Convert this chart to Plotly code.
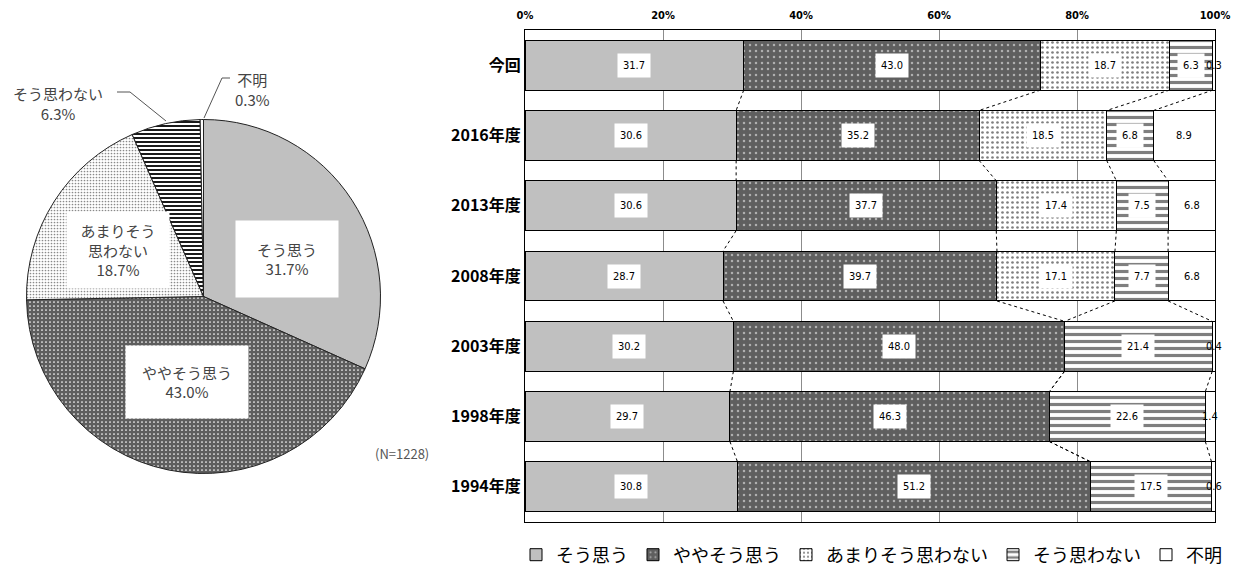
import plotly.graph_objects as go

# ---------------- data ----------------
series_names = ["そう思う", "ややそう思う", "あまりそう思わない", "そう思わない", "不明"]
categories = ["今回", "2016年度", "2013年度", "2008年度", "2003年度", "1998年度", "1994年度"]
so_omou = [31.7, 30.6, 30.6, 28.7, 30.2, 29.7, 30.8]
yaya = [43.0, 35.2, 37.7, 39.7, 48.0, 46.3, 51.2]
amari = [18.7, 18.5, 17.4, 17.1, None, None, None]
omowanai = [6.3, 6.8, 7.5, 7.7, 21.4, 22.6, 17.5]
fumei = [0.3, 8.9, 6.8, 6.8, 0.4, 1.4, 0.6]

pie_values = [31.7, 43.0, 18.7, 6.3, 0.3]
pie_n = 1228
x_ticks = [0, 20, 40, 60, 80, 100]

# page has an 8px body margin; figure size chosen so it fills the window
OFF = 8
W, H = 1243 - OFF, 567 - OFF


def px(x):
    return (x - OFF) / W


def py(y):
    return 1 - (y - OFF) / H


CJK = "Noto Sans CJK JP"
NARROW = "Liberation Sans Narrow, DejaVu Sans Condensed, Liberation Sans, sans-serif"

patterns = [
    dict(color="#c0c0c0", pattern=None),
    dict(color="#5f5f5f", pattern=dict(shape=".", fgcolor="#ffffff", bgcolor="#5f5f5f", size=6, solidity=0.14)),
    dict(color="#ffffff", pattern=dict(shape=".", fgcolor="#000000", bgcolor="#ffffff", size=5, solidity=0.22)),
    dict(color="#ffffff", pattern=dict(shape="-", fgcolor="#000000", bgcolor="#ffffff", size=7, solidity=0.45)),
    dict(color="#ffffff", pattern=None),
]

series_vals = [so_omou, yaya, amari, omowanai, fumei]
ypos = list(range(len(categories)))
BAR_W = 0.71

fig = go.Figure()

# ---------------- pie ----------------
pie_patterns = [
    dict(shape=""),
    dict(shape=".", fgcolor="#ffffff", bgcolor="#5e5e5e", size=4, solidity=0.15),
    dict(shape=".", fgcolor="#8a8a8a", bgcolor="#ffffff", size=3, solidity=0.25),
    dict(shape="-", fgcolor="#000000", bgcolor="#ffffff", size=4, solidity=0.45),
    dict(shape=""),
]
fig.add_trace(go.Pie(
    labels=series_names, values=pie_values, sort=False, direction="clockwise", rotation=0,
    textinfo="none", hoverinfo="label+percent", showlegend=False,
    marker=dict(colors=["#c0c0c0", "#5e5e5e", "#f0f0f0", "#ffffff", "#ffffff"],
                line=dict(color="#222222", width=1), pattern=dict(
                    shape=[p["shape"] for p in pie_patterns],
                    fgcolor=[p.get("fgcolor", "#000") for p in pie_patterns],
                    bgcolor=[p.get("bgcolor", "#fff") for p in pie_patterns],
                    size=[p.get("size", 8) for p in pie_patterns],
                    solidity=[p.get("solidity", 0.3) for p in pie_patterns])),
    domain=dict(x=[px(26.5), px(380.5)], y=[py(473.5), py(119.5)]),
))

# ---------------- bars ----------------
for i, (name, vals) in enumerate(zip(series_names, series_vals)):
    p = patterns[i]
    marker = dict(color=p["color"], line=dict(color="#000000", width=1))
    if p["pattern"]:
        marker["pattern"] = p["pattern"]
    fig.add_trace(go.Bar(
        name=name, orientation="h", y=ypos, x=[v if v is not None else 0 for v in vals],
        marker=marker, width=BAR_W, xaxis="x", yaxis="y", hoverinfo="x+name",
    ))

# cumulative positions
cums = []
for r in range(len(categories)):
    c = 0
    row = []
    for vals in series_vals:
        v = vals[r] or 0
        row.append((c, c + v))
        c += v
    cums.append(row)

annotations = []
for r in range(len(categories)):
    for s, vals in enumerate(series_vals):
        v = vals[r]
        if v is None:
            continue
        a, b = cums[r][s]
        annotations.append(dict(
            x=(a + b) / 2, y=r, xref="x", yref="y", text=f"{v:.1f}", showarrow=False,
            xanchor="center", yanchor="middle",
            font=dict(family=NARROW, size=11, color="#000"),
            bgcolor="#ffffff" if s < 4 else "rgba(0,0,0,0)", borderpad=5,
        ))

shapes = []
# connector dotted lines between consecutive rows
for r in range(len(categories) - 1):
    for s in range(4):
        x0 = cums[r][s][1]
        x1 = cums[r + 1][s][1]
        shapes.append(dict(type="line", xref="x", yref="y", x0=x0, x1=x1,
                           y0=r + BAR_W / 2, y1=r + 1 - BAR_W / 2,
                           line=dict(color="#000000", width=1, dash="dot")))

# pie leader lines
shapes.append(dict(type="path", xref="paper", yref="paper",
                   path=f"M{px(117)},{py(92)} L{px(130)},{py(92)} L{px(166)},{py(121)}",
                   line=dict(color="#555555", width=1)))
shapes.append(dict(type="path", xref="paper", yref="paper",
                   path=f"M{px(230)},{py(78)} L{px(222)},{py(78)} L{px(204)},{py(118)}",
                   line=dict(color="#555555", width=1)))

# pie labels
pie_font = dict(family=CJK, size=15, color="#444444")
common = dict(xref="paper", yref="paper", showarrow=False, xanchor="center", yanchor="middle")
annotations += [
    dict(x=px(287), y=py(259), text=f"{series_names[0]}<br>{pie_values[0]:.1f}%", font=pie_font,
         bgcolor="#ffffff", width=100, height=74, **common),
    dict(x=px(187), y=py(382), text=f"{series_names[1]}<br>{pie_values[1]:.1f}%", font=pie_font,
         bgcolor="#ffffff", width=120, height=70, **common),
    dict(x=px(118), y=py(250), text=f"あまりそう<br>思わない<br>{pie_values[2]:.1f}%", font=pie_font,
         bgcolor="#ffffff", width=100, height=74, **common),
    dict(x=px(58), y=py(103), text=f"{series_names[3]}<br>{pie_values[3]:.1f}%", font=pie_font, **common),
    dict(x=px(252), y=py(90), text=f"{series_names[4]}<br>{pie_values[4]:.1f}%", font=pie_font, **common),
    dict(x=px(402), y=py(453), text=f"(N={pie_n})", font=dict(family=CJK, size=13, color="#555555"), **common),
]

fig.update_layout(
    barmode="stack",
    bargap=0.29,
    width=W, height=H,
    margin=dict(l=0, r=0, t=0, b=0, autoexpand=False),
    paper_bgcolor="#ffffff", plot_bgcolor="#ffffff",
    xaxis=dict(domain=[px(525), px(1215)], range=[0, 100], side="top",
               tickvals=x_ticks, ticktext=[f"{t}%" for t in x_ticks],
               tickfont=dict(family=NARROW, size=11, color="#000", weight="bold"),
               ticklabelstandoff=6,
               showgrid=True, gridcolor="#8c8c8c", gridwidth=1,
               showline=True, linecolor="#000", linewidth=1, mirror=True,
               ticks="", zeroline=False, fixedrange=True, automargin=False),
    yaxis=dict(domain=[py(522), py(30)], range=[6.5, -0.5],
               tickvals=ypos, ticktext=categories,
               tickfont=dict(family=CJK, size=16, color="#000", weight="bold"),
               showgrid=False, showline=True, linecolor="#000", linewidth=1, mirror=True,
               ticks="", zeroline=False, fixedrange=True, automargin=False),
    legend=dict(orientation="h", x=px(516), y=py(555), xanchor="left", yanchor="middle",
                font=dict(family=CJK, size=18, color="#000"), traceorder="normal",
                itemwidth=30, bgcolor="rgba(0,0,0,0)"),
    annotations=annotations,
    shapes=shapes,
)

fig.write_html("out.html")
